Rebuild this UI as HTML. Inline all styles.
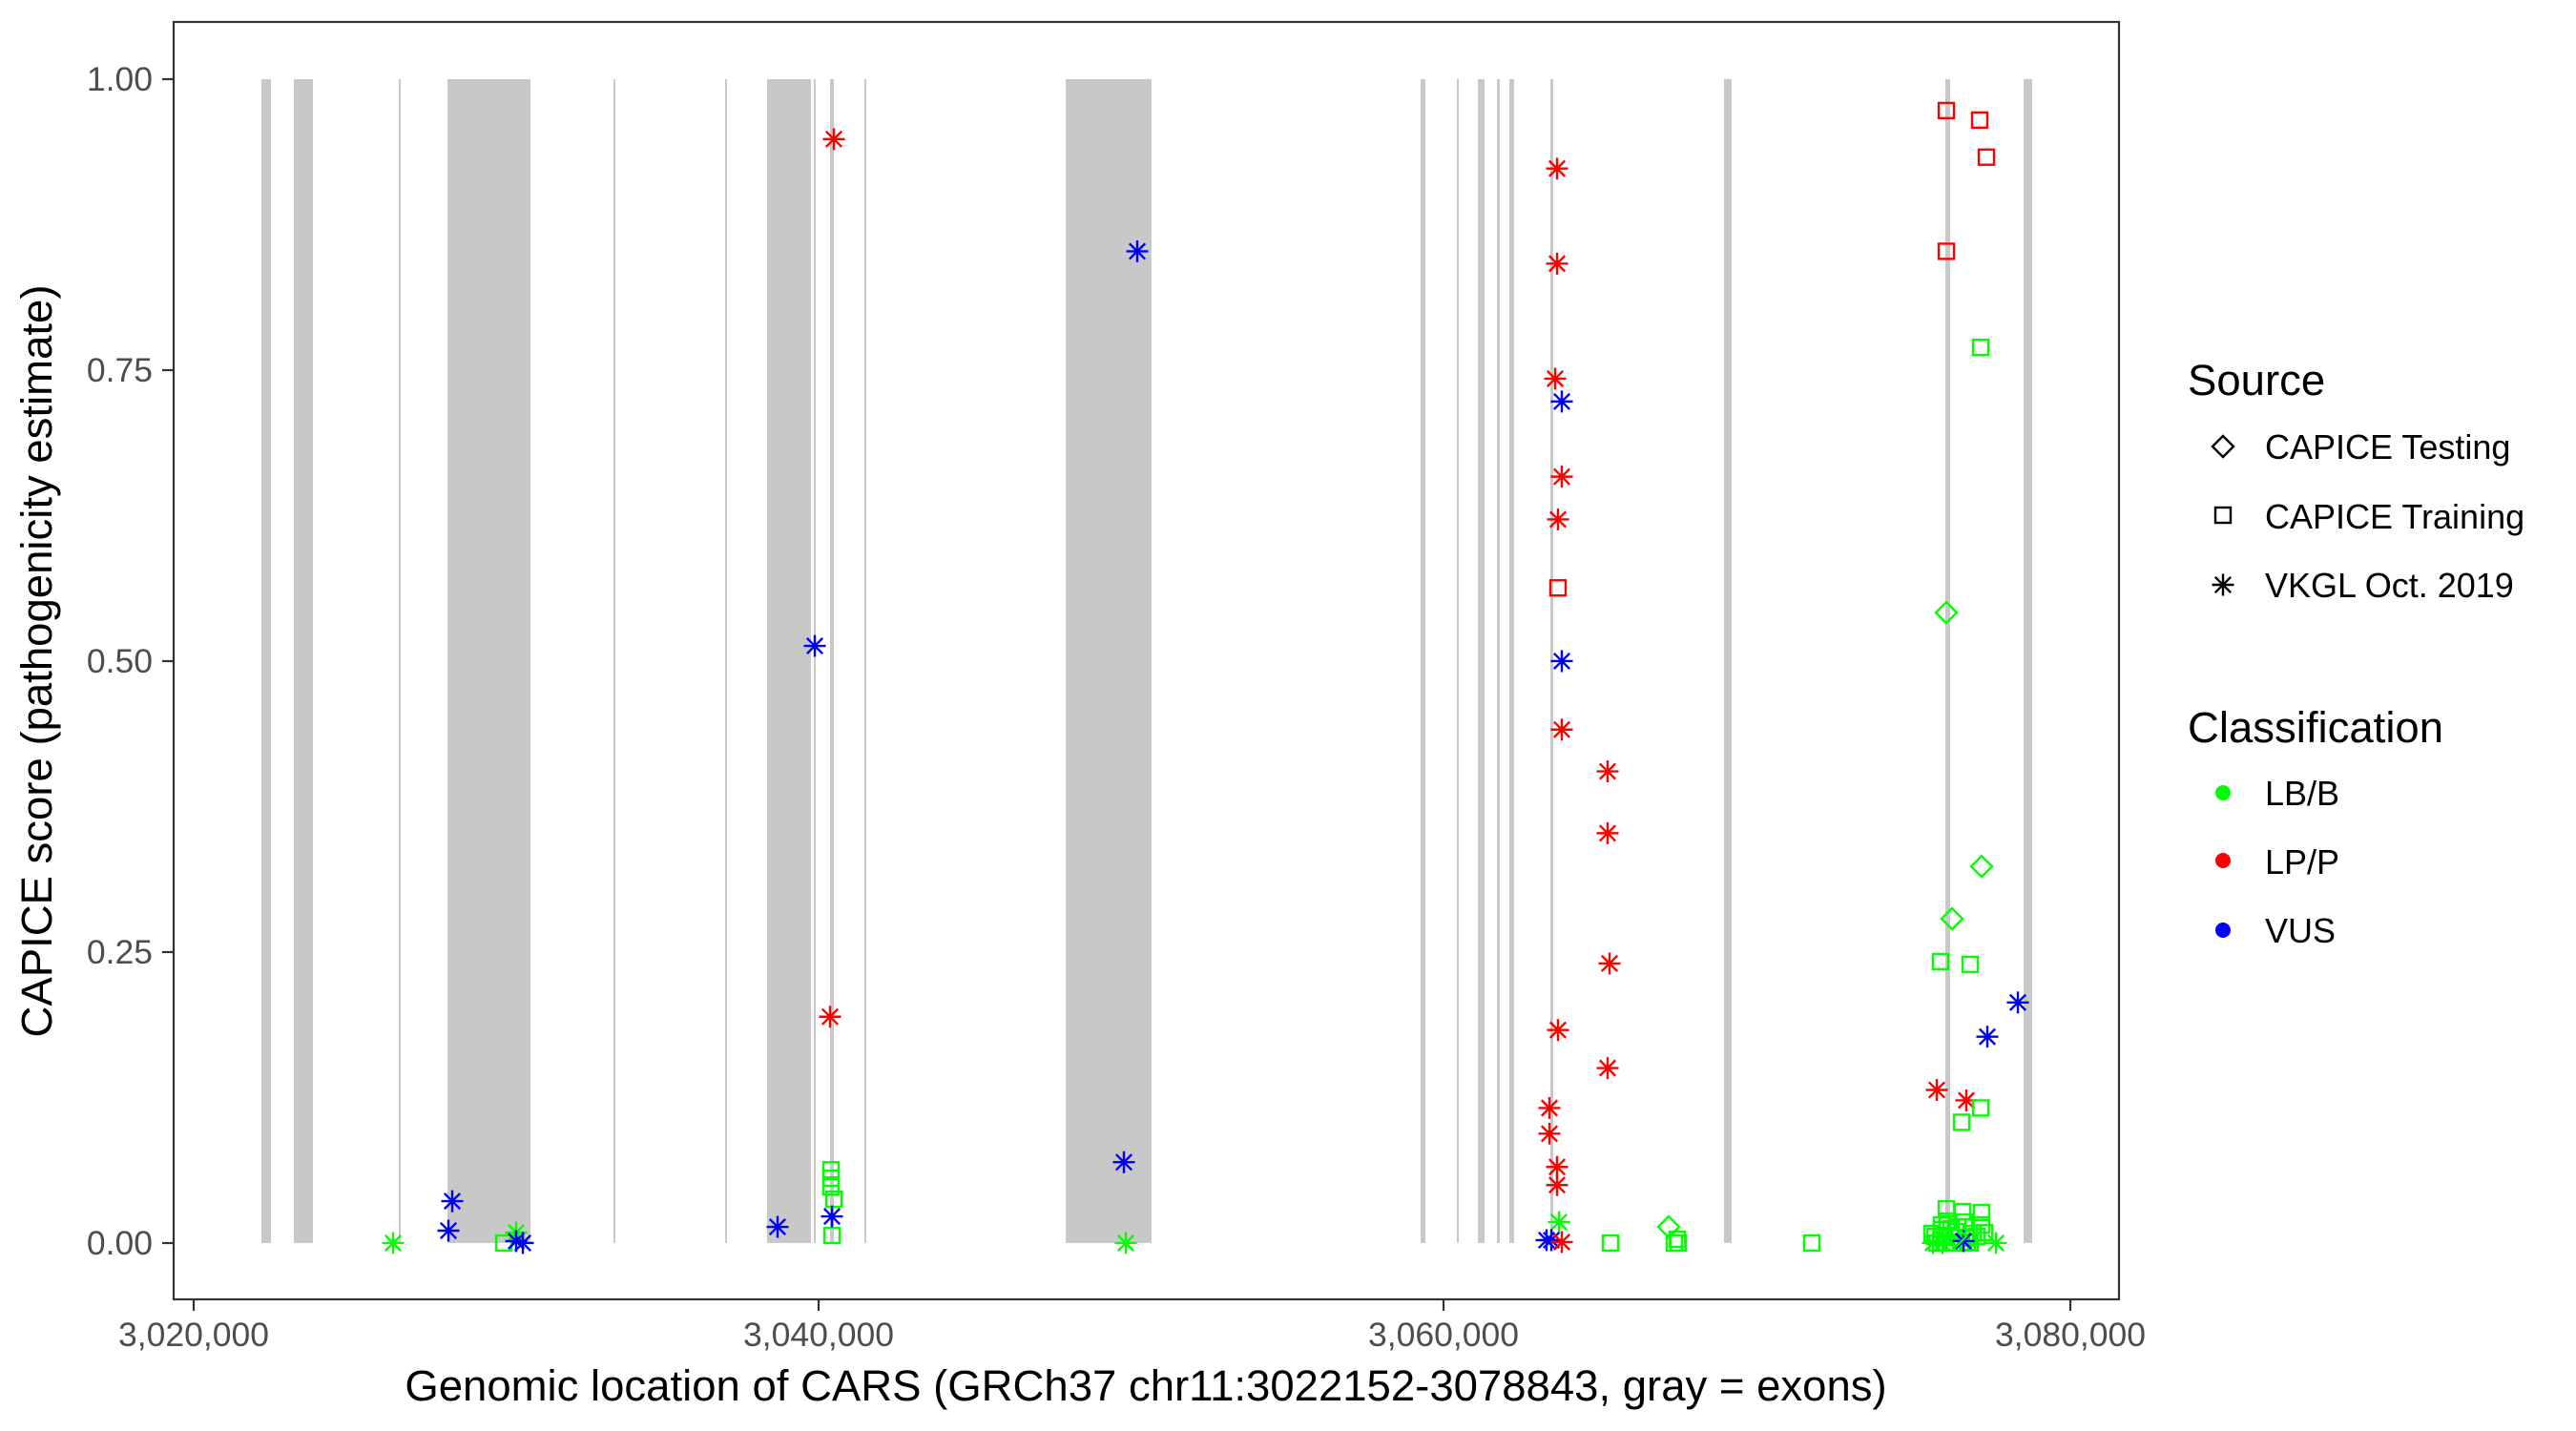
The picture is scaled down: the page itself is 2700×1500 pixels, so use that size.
<!DOCTYPE html>
<html><head><meta charset="utf-8"><style>
html,body{margin:0;padding:0;background:#fff;}
svg{display:block;font-family:"Liberation Sans",Arial,sans-serif;}
</style></head><body>
<svg id="s" width="2700" height="1500" xmlns="http://www.w3.org/2000/svg">
<rect x="0" y="0" width="2700" height="1500" fill="#fff"/>
<g transform="translate(0,83) scale(1,0.9967) translate(0,-83)">
<g id="exons" fill="#c8c8c8"></g>
<g id="pts" fill="none" stroke-width="2.4"></g>
</g>
<rect x="182" y="23" width="2039" height="1339" fill="none" stroke="#333" stroke-width="2.2"/>
<g stroke="#333" stroke-width="2.2">
<line x1="170" y1="83" x2="182" y2="83"/><line x1="170" y1="388" x2="182" y2="388"/>
<line x1="170" y1="693" x2="182" y2="693"/><line x1="170" y1="998" x2="182" y2="998"/>
<line x1="170" y1="1303" x2="182" y2="1303"/>
<line x1="203" y1="1362" x2="203" y2="1374"/><line x1="858" y1="1362" x2="858" y2="1374"/>
<line x1="1513" y1="1362" x2="1513" y2="1374"/><line x1="2170" y1="1362" x2="2170" y2="1374"/>
</g>
<g fill="#4d4d4d" font-size="35.5" text-anchor="end">
<text x="160" y="95">1.00</text><text x="160" y="400">0.75</text>
<text x="160" y="705">0.50</text><text x="160" y="1010">0.25</text>
<text x="160" y="1315">0.00</text>
</g>
<g fill="#4d4d4d" font-size="35.5" text-anchor="middle">
<text x="203" y="1411">3,020,000</text><text x="858" y="1411">3,040,000</text>
<text x="1513" y="1411">3,060,000</text><text x="2170" y="1411">3,080,000</text>
</g>
<text x="1201" y="1468" font-size="45.5" text-anchor="middle" fill="#000">Genomic location of CARS (GRCh37 chr11:3022152-3078843, gray = exons)</text>
<text transform="translate(54,693) rotate(-90)" font-size="45.5" text-anchor="middle" fill="#000">CAPICE score (pathogenicity estimate)</text>
<g font-size="45.5" fill="#000"><text x="2293" y="414">Source</text><text x="2293" y="778">Classification</text></g>
<g font-size="36" fill="#000">
<text x="2374" y="481">CAPICE Testing</text><text x="2374" y="554">CAPICE Training</text>
<text x="2374" y="626">VKGL Oct. 2019</text>
<text x="2374" y="844">LB/B</text><text x="2374" y="916">LP/P</text><text x="2374" y="988">VUS</text>
</g>
<g id="leg" fill="none" stroke="#000" stroke-width="2.4"></g>
<circle cx="2330" cy="831" r="8" fill="#00ff00"/>
<circle cx="2330" cy="902" r="8" fill="#ff0000"/>
<circle cx="2330" cy="975" r="8" fill="#0000ff"/>
</svg>
<script>
var NS="http://www.w3.org/2000/svg";
function el(p,t,a){var e=document.createElementNS(NS,t);for(var k in a)e.setAttribute(k,a[k]);p.appendChild(e);return e;}
var ex=document.getElementById("exons");
var E=[[274,284],[308,328],[418,420],[469,556],[643,645],[760,762],[804,850],[853,855],[870,874],[906,908],[1117,1207],[1489,1494],[1527,1529],[1549,1556],[1569,1572],[1582,1587],[1625,1628],[1807,1815],[2039,2044],[2121,2130]];
E.forEach(function(r){el(ex,"rect",{x:r[0],y:83,width:r[1]-r[0],height:1224});});
function mark(g,t,x,y,c){
 if(t=="a"){var d=11.5,e=8.2;el(g,"path",{d:"M"+(x-d)+" "+y+"H"+(x+d)+"M"+x+" "+(y-d)+"V"+(y+d)+"M"+(x-e)+" "+(y-e)+"L"+(x+e)+" "+(y+e)+"M"+(x-e)+" "+(y+e)+"L"+(x+e)+" "+(y-e),stroke:c});}
 else if(t=="s"){el(g,"rect",{x:x-8,y:y-8,width:16,height:16,stroke:c});}
 else {var d=11;el(g,"path",{d:"M"+x+" "+(y-d)+"L"+(x+d)+" "+y+"L"+x+" "+(y+d)+"L"+(x-d)+" "+y+"Z",stroke:c});}
}
var G="#00ff00",R="#ff0000",B="#0000ff";
var P=[
["a",874,146,R],["a",1192,264,B],["a",854,679,B],["a",870,1069,R],["a",1178,1222,B],["a",1180,1307,G],
["a",412,1307,G],["a",474,1263,B],["a",470,1294,B],["s",528,1307,G],["a",541,1296,G],["a",548,1307,B],["a",541,1305,B],
["a",815,1290,B],["s",871,1230,G],["s",871,1239,G],["s",871,1248,G],["s",874,1261,G],["s",872,1299,G],["a",872,1279,B],
["s",2040,116,R],["s",2075,126,R],["s",2082,165,R],["s",2040,264,R],["s",2076,365,G],
["a",1632,177,R],["a",1632,277,R],["a",1630,398,R],["a",1637,422,B],["a",1637,501,R],["a",1633,546,R],["s",1633,618,R],
["d",2040,644,G],["a",1637,695,B],["a",1637,767,R],["a",1685,811,R],["a",1685,876,R],["d",2077,911,G],["d",2046,966,G],
["s",2034,1011,G],["s",2065,1014,G],["a",1687,1013,R],["a",2115,1054,B],["a",2083,1090,B],["a",1633,1083,R],["a",1685,1123,R],
["a",2030,1146,R],["a",2061,1157,R],["s",2076,1165,G],["s",2056,1180,G],["a",1624,1165,R],["a",1624,1192,R],["a",1632,1227,R],
["a",1632,1246,R],["a",1634,1285,G],["d",1749,1290,G],["s",1688,1307,G],["s",1755,1307,G],["s",1759,1307,G],["s",1899,1307,G],
["a",1621,1304,B],["a",1626,1304,B],["a",1637,1306,R],["s",1758,1303,G]
];
var pg=document.getElementById("pts");
var cl=[[2040,1271],[2057,1274],[2077,1275],[2041,1284],[2059,1285],[2077,1288],[2035,1293],[2050,1295],[2068,1297],[2080,1296],
[2028,1300],[2045,1301],[2060,1302],[2072,1300],[2030,1307],[2040,1307],[2048,1307],[2055,1307],[2065,1307],[2025,1297],[2035,1288],[2052,1290],[2045,1292],[2062,1306],[2038,1299]];
cl.forEach(function(c){P.push(["s",c[0],c[1],G]);});
P.push(["a",2026,1307,G],["a",2036,1307,G],["a",2092,1307,G],["a",2058,1305,B],["d",2050,1300,G]);
P.forEach(function(p){mark(pg,p[0],p[1],p[2],p[3]);});
var lg=document.getElementById("leg");
mark(lg,"d",2330,468,"#000");mark(lg,"s",2330,540,"#000");mark(lg,"a",2330,613,"#000");
</script>
</body></html>
